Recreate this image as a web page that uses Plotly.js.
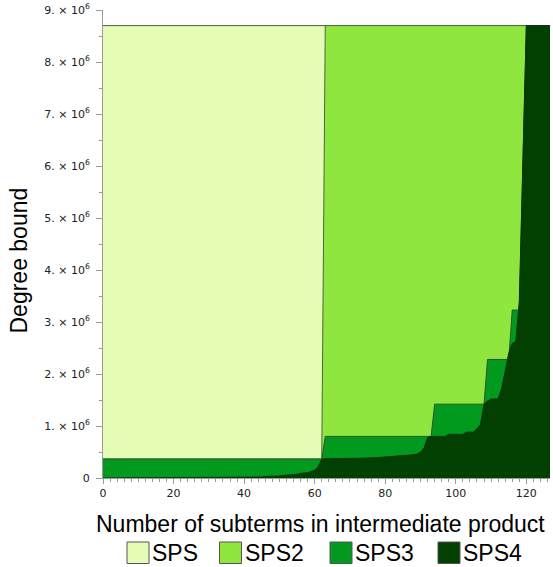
<!DOCTYPE html>
<html>
<head>
<meta charset="utf-8">
<script src="https://cdn.plot.ly/plotly-3.0.1.min.js"></script>
<style>
  html, body { margin: 0; padding: 0; background: #ffffff; }
  #chart { width: 553px; height: 567px; }
</style>
</head>
<body>
<div id="chart"></div>
<script>
// ---------- data ----------
const seriesNames = ['SPS', 'SPS2', 'SPS3', 'SPS4'];

const spsX  = [0, 127];
const spsY  = [8700000, 8700000];

const sps2X = [0, 62, 63, 127];
const sps2Y = [365000, 365000, 8700000, 8700000];

const sps3X = [0, 62, 63, 93, 94, 108, 109, 115, 116, 118, 119, 120, 127];
const sps3Y = [365000, 365000, 800000, 800000, 1420000, 1420000, 2280000, 2280000,
               3230000, 3230000, 6000000, 8700000, 8700000];

const sps4X = [0, 24, 25, 45, 46, 50, 51, 55, 56, 58, 59, 60, 61, 62, 63, 72, 73, 77,
               82, 85, 87, 89, 90, 91, 92, 93, 97, 98, 102, 103, 105, 106, 107, 108,
               109, 110, 112, 113, 114, 115, 116, 117, 118, 119, 120, 127];
const sps4Y = [0, 0, 10000, 20000, 30000, 40000, 50000, 70000, 90000, 100000, 120000,
               150000, 220000, 360000, 370000, 370000, 380000, 390000, 410000, 420000,
               440000, 460000, 500000, 580000, 780000, 800000, 800000, 840000, 840000,
               880000, 880000, 950000, 1030000, 1420000, 1480000, 1520000, 1520000,
               1720000, 2100000, 2400000, 2590000, 2620000, 3400000, 6100000, 8700000,
               8700000];

const yTickVals = [0, 1000000, 2000000, 3000000, 4000000, 5000000, 6000000, 7000000, 8000000, 9000000];
const yTickText = ['0', '1. \u00d7 10<sup>6</sup>', '2. \u00d7 10<sup>6</sup>', '3. \u00d7 10<sup>6</sup>',
                   '4. \u00d7 10<sup>6</sup>', '5. \u00d7 10<sup>6</sup>', '6. \u00d7 10<sup>6</sup>',
                   '7. \u00d7 10<sup>6</sup>', '8. \u00d7 10<sup>6</sup>', '9. \u00d7 10<sup>6</sup>'];

const xTitle = 'Number of subterms in intermediate product';
const yTitle = 'Degree bound';

// ---------- styles ----------
const fillColors = ['#e5fcb6', '#8fe63f', '#02991f', '#014001'];
const lineColors = ['#4f5f46', '#4a6a35', '#2a5530', '#123312'];

const xs = [spsX, sps2X, sps3X, sps4X];
const ys = [spsY, sps2Y, sps3Y, sps4Y];

const traces = seriesNames.map((name, i) => ({
  type: 'scatter',
  mode: 'lines',
  name: name,
  x: xs[i],
  y: ys[i],
  fill: 'tozeroy',
  fillcolor: fillColors[i],
  line: { color: lineColors[i], width: 1 },
  hoverinfo: 'skip'
}));

// plot-area geometry (pixels) used to place legend/titles in paper coords
const L = 103, T = 10, W = 447, H = 468;
const px = v => (v - L) / W;
const py = v => (T + H - v) / H;

const shapes = [];
const annotations = [];
const swatchLeft = [127, 219.5, 330, 438];
seriesNames.forEach((name, i) => {
  shapes.push({
    type: 'rect', xref: 'paper', yref: 'paper',
    x0: px(swatchLeft[i]), x1: px(swatchLeft[i] + 22),
    y0: py(563.5), y1: py(542),
    fillcolor: fillColors[i],
    line: { color: '#555555', width: 1 }
  });
  annotations.push({
    xref: 'paper', yref: 'paper',
    x: px(swatchLeft[i] + 23), y: py(553),
    xanchor: 'left', yanchor: 'middle',
    text: name, showarrow: false,
    font: { family: 'Liberation Sans, Arial, sans-serif', size: 23, color: '#000' }
  });
});

annotations.push({
  xref: 'paper', yref: 'paper',
  x: px(320), y: py(524),
  xanchor: 'center', yanchor: 'middle',
  text: xTitle, showarrow: false,
  font: { family: 'Liberation Sans, Arial, sans-serif', size: 23, color: '#000' }
});
annotations.push({
  xref: 'paper', yref: 'paper',
  x: px(18), y: py(260.5),
  xanchor: 'center', yanchor: 'middle',
  textangle: -90,
  text: yTitle, showarrow: false,
  font: { family: 'Liberation Sans, Arial, sans-serif', size: 23, color: '#000' }
});

const axisGray = '#9a9a9a';
const tickFont = { family: 'DejaVu Sans, Verdana, sans-serif', size: 11, color: '#222' };

const layout = {
  width: 553, height: 567,
  margin: { l: L, r: 553 - L - W, t: T, b: 567 - T - H },
  paper_bgcolor: '#ffffff', plot_bgcolor: '#ffffff',
  showlegend: false,
  xaxis: {
    range: [0, 126.7],
    tickmode: 'linear', tick0: 0, dtick: 20,
    ticks: 'outside', ticklen: 5, tickwidth: 1, tickcolor: axisGray,
    showline: true, linecolor: axisGray, linewidth: 1,
    showgrid: false, zeroline: false,
    tickfont: tickFont,
    minor: { tick0: 0, dtick: 2, ticks: 'outside', ticklen: 3, tickwidth: 1, tickcolor: axisGray, showgrid: false }
  },
  yaxis: {
    range: [0, 9000000],
    tickmode: 'array', tickvals: yTickVals, ticktext: yTickText,
    ticks: 'outside', ticklen: 6, tickwidth: 1, tickcolor: axisGray,
    ticklabelstandoff: 4,
    showline: true, linecolor: axisGray, linewidth: 1,
    showgrid: false, zeroline: false,
    tickfont: tickFont,
    minor: { tick0: 0, dtick: 500000, ticks: 'outside', ticklen: 3, tickwidth: 1, tickcolor: axisGray, showgrid: false }
  },
  shapes: shapes,
  annotations: annotations
};

Plotly.newPlot('chart', traces, layout, { staticPlot: true, displayModeBar: false });
</script>
</body>
</html>
